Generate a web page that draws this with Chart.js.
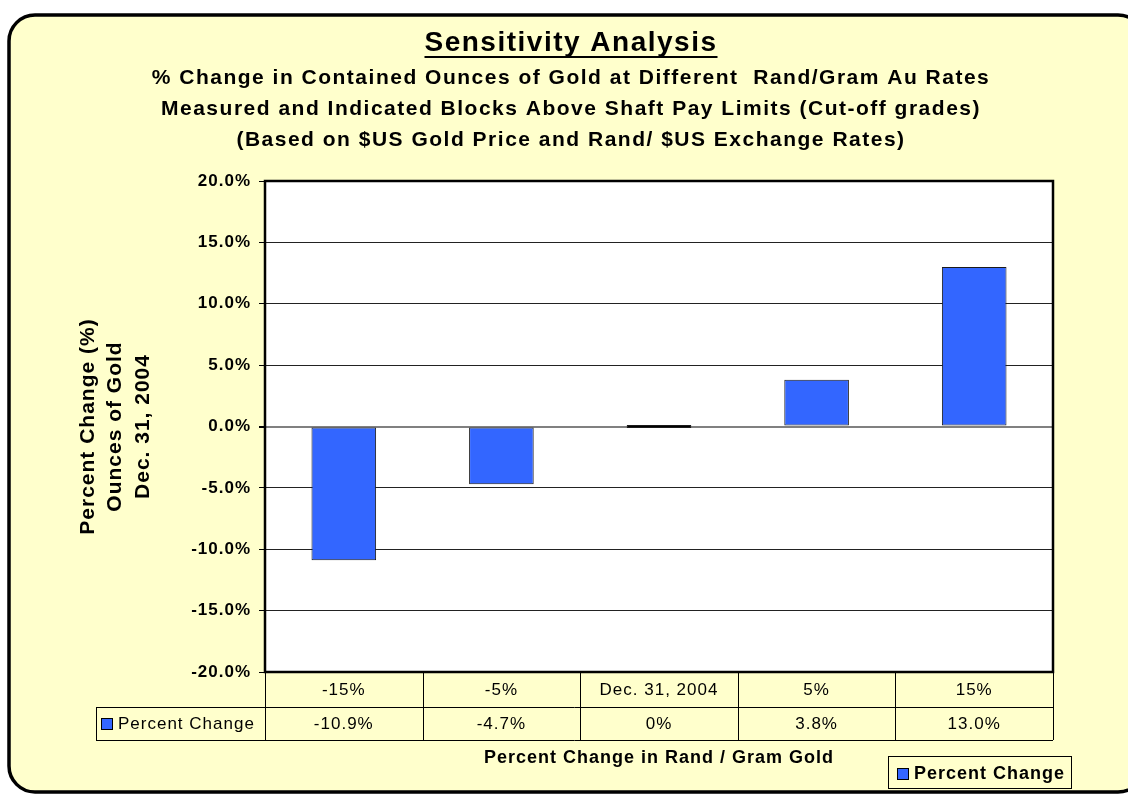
<!DOCTYPE html>
<html>
<head>
<meta charset="utf-8">
<script src="https://cdn.jsdelivr.net/npm/chart.js@4.4.0/dist/chart.umd.min.js"></script>
<style>
  html, body { margin: 0; padding: 0; background: #fff; }
  canvas { display: block; }
</style>
</head>
<body>
<canvas id="myChart" width="1128" height="795"></canvas>
<script>
// chart data
const categories = ['-15%', '-5%', 'Dec. 31, 2004', '5%', '15%'];
const percentChange = [-10.9, -4.7, 0, 3.8, 13.0];
const tableLabels = ['-10.9%', '-4.7%', '0%', '3.8%', '13.0%'];
const seriesName = 'Percent Change';

const chartTitle = 'Sensitivity Analysis';
const subTitles = [
  '% Change in Contained Ounces of Gold at Different  Rand/Gram Au Rates',
  'Measured and Indicated Blocks Above Shaft Pay Limits (Cut-off grades)',
  '(Based on $US Gold Price and Rand/ $US Exchange Rates)'
];
const yTitle = ['Percent Change (%)', 'Ounces of Gold', 'Dec. 31, 2004'];
const xTitle = 'Percent Change in Rand / Gram Gold';

const FONT = '"Liberation Sans", Arial, sans-serif';
const BAR = '#3366FF';
const PAPER = '#FFFFCC';

function roundRect(ctx, x, y, w, h, r) {
  ctx.beginPath();
  ctx.moveTo(x + r, y);
  ctx.lineTo(x + w - r, y);
  ctx.arcTo(x + w, y, x + w, y + r, r);
  ctx.lineTo(x + w, y + h - r);
  ctx.arcTo(x + w, y + h, x + w - r, y + h, r);
  ctx.lineTo(x + r, y + h);
  ctx.arcTo(x, y + h, x, y + h - r, r);
  ctx.lineTo(x, y + r);
  ctx.arcTo(x, y, x + r, y, r);
  ctx.closePath();
}

const framePlugin = {
  id: 'frame',
  beforeDraw(chart) {
    const ctx = chart.ctx;
    const a = chart.chartArea;
    ctx.save();
    ctx.fillStyle = '#fff';
    ctx.fillRect(0, 0, chart.width, chart.height);
    roundRect(ctx, 9, 15, 1135, 777, 26);
    ctx.fillStyle = PAPER;
    ctx.fill();
    ctx.lineWidth = 3.5;
    ctx.strokeStyle = '#000';
    ctx.stroke();
    ctx.fillStyle = '#fff';
    ctx.fillRect(a.left, a.top, a.right - a.left, a.bottom - a.top);
    ctx.restore();
    ctx.letterSpacing = '1px';
  },
  afterDatasetsDraw(chart) {
    const ctx = chart.ctx;
    const a = chart.chartArea;
    ctx.save();
    ctx.lineWidth = 2.5;
    ctx.strokeStyle = '#000';
    ctx.strokeRect(a.left, a.top, a.right - a.left, a.bottom - a.top);
    ctx.restore();
  },
  afterDraw(chart) {
    const ctx = chart.ctx;
    const a = chart.chartArea;
    const xs = chart.scales.x;
    ctx.save();
    ctx.fillStyle = '#000';
    ctx.textAlign = 'center';
    ctx.textBaseline = 'middle';

    // titles
    const cx = 571;
    ctx.font = 'bold 28px ' + FONT;
    ctx.letterSpacing = '1.5px';
    ctx.fillText(chartTitle, cx, 43);
    const tw = ctx.measureText(chartTitle).width;
    ctx.fillRect(cx - tw / 2, 56, tw, 2);
    ctx.font = 'bold 21px ' + FONT;
    ctx.letterSpacing = '1.5px';
    subTitles.forEach((t, i) => ctx.fillText(t, cx, 78 + i * 31));

    // data table
    const cw = (a.right - a.left) / categories.length;
    const r1 = a.bottom, r2 = a.bottom + 35, r3 = a.bottom + 68;
    ctx.strokeStyle = '#000';
    ctx.lineWidth = 1;
    ctx.beginPath();
    for (let i = 0; i <= categories.length; i++) {
      const x = Math.round(a.left + i * cw) + 0.5;
      ctx.moveTo(x, r1);
      ctx.lineTo(x, r3);
    }
    ctx.moveTo(96.5, r2); ctx.lineTo(96.5, r3);
    ctx.moveTo(96, r2 + 0.5); ctx.lineTo(a.right, r2 + 0.5);
    ctx.moveTo(96, r3 + 0.5); ctx.lineTo(a.right, r3 + 0.5);
    ctx.stroke();

    ctx.font = '17px ' + FONT;
    ctx.letterSpacing = '1px';
    categories.forEach((c, i) => ctx.fillText(c, xs.getPixelForValue(i), 690));
    tableLabels.forEach((c, i) => ctx.fillText(c, xs.getPixelForValue(i), 724));

    ctx.fillStyle = BAR;
    ctx.fillRect(101, 718, 11, 11);
    ctx.strokeRect(101.5, 718.5, 11, 11);
    ctx.fillStyle = '#000';
    ctx.textAlign = 'left';
    ctx.fillText(seriesName, 118, 724);

    // legend
    ctx.strokeRect(888.5, 756.5, 183, 32);
    ctx.fillStyle = BAR;
    ctx.fillRect(897, 768, 11, 11);
    ctx.strokeRect(897.5, 768.5, 11, 11);
    ctx.fillStyle = '#000';
    ctx.font = 'bold 18px ' + FONT;
    ctx.fillText(seriesName, 914, 774);
    ctx.restore();
  }
};

const ctx = document.getElementById('myChart').getContext('2d');
new Chart(ctx, {
  type: 'bar',
  data: {
    labels: categories,
    datasets: [{
      label: seriesName,
      data: percentChange,
      backgroundColor: c => c.raw === 0 ? '#000' : BAR,
      borderColor: '#1a1a1a',
      borderWidth: 1,
      borderSkipped: false,
      barPercentage: 0.41,
      categoryPercentage: 1,
      minBarLength: 3
    }]
  },
  options: {
    responsive: false,
    animation: false,
    devicePixelRatio: 1,
    layout: { padding: { top: 181, right: 75, bottom: 0, left: 70 } },
    plugins: {
      legend: { display: false },
      tooltip: { enabled: false }
    },
    scales: {
      x: {
        grid: { display: false },
        border: { display: false },
        ticks: { display: false },
        title: {
          display: true,
          text: xTitle,
          color: '#000',
          font: { family: FONT, size: 18, weight: 'bold' },
          padding: { top: 0, bottom: 26 }
        },
        afterFit(scale) { scale.height = 123; }
      },
      y: {
        min: -20,
        max: 20,
        border: { display: false },
        grid: {
          color: c => c.tick && c.tick.value === 0 ? '#808080' : '#222',
          lineWidth: c => c.tick && c.tick.value === 0 ? 2 : 1,
          tickColor: '#000',
          tickLength: 6
        },
        ticks: {
          stepSize: 5,
          color: '#000',
          padding: 8,
          font: { family: FONT, size: 17, weight: 'bold' },
          callback: v => v.toFixed(1) + '%'
        },
        title: {
          display: true,
          text: yTitle,
          color: '#000',
          font: { family: FONT, size: 21, weight: 'bold', lineHeight: 1.29 },
          padding: { top: 5, bottom: 0 }
        },
        afterFit(scale) { scale.width = 195; }
      }
    }
  },
  plugins: [framePlugin]
});
</script>
</body>
</html>
